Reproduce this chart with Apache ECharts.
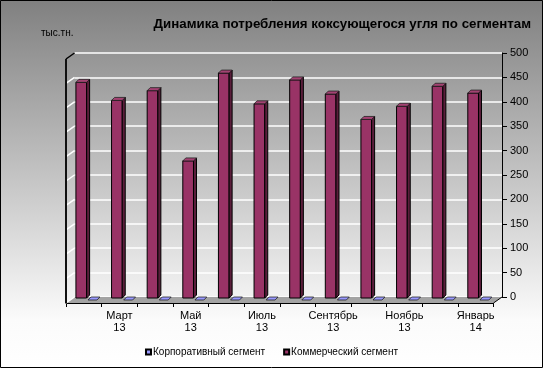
<!DOCTYPE html>
<html>
<head>
<meta charset="utf-8">
<script src="https://cdn.jsdelivr.net/npm/echarts@6/dist/echarts.min.js"></script>
<style>
html,body{margin:0;padding:0;background:#fff;}
#c{width:543px;height:368px;}
</style>
</head>
<body>
<div id="c"></div>
<script>
// ---- data ----
var categories = ['Февраль\n13','Март\n13','Апрель\n13','Май\n13','Июнь\n13','Июль\n13','Август\n13','Сентябрь\n13','Октябрь\n13','Ноябрь\n13','Декабрь\n13','Январь\n14'];
var corporate = [0,0,0,0,0,0,0,0,0,0,0,0];
var commercial = [446,409,429,285,465,402,451,422,370,397,438,424];
var yTicks = [0,50,100,150,200,250,300,350,400,450,500];
var seriesNames = ['Корпоративный сегмент','Коммерческий сегмент'];
var titleText = 'Динамика потребления коксующегося угля по сегментам';
var unitText = 'тыс.тн.';

var chart = echarts.init(document.getElementById('c'), null, {renderer:'canvas'});
var DX = 8.5, DY = 6; // depth of floor / side wall

function barItem(offFrac, wFrac, fillFront, fillTop, fillSide, depth) {
  return function(params, api) {
    var i = api.value(0), v = api.value(1);
    var p = api.coord([i, v]);
    var p0 = api.coord([i, 0]);
    var cw = api.size([1, 0])[0];
    var L = p[0] - cw / 2 + cw * offFrac;
    var W = cw * wFrac;
    var yb = p0[1] + 1;
    var yt = p[1] + depth;
    var d = depth;
    var children = [];
    if (yb - yt > 0.5) {
      children.push({type:'rect', shape:{x:L, y:yt, width:W, height:yb - yt},
        style:{fill:fillFront, stroke:'#000', lineWidth:1}});
      children.push({type:'polygon', shape:{points:[[L+W,yt],[L+W+d,yt-d],[L+W+d,yb-d],[L+W,yb]]},
        style:{fill:fillSide, stroke:'#000', lineWidth:1}});
    }
    children.push({type:'polygon', shape:{points:[[L,yt],[L+W,yt],[L+W+d,yt-d],[L+d,yt-d]]},
      style:{fill:fillTop, stroke:'#222', lineWidth:0.8}});
    return {type:'group', children:children};
  };
}

function frameItem(params, api) {
  var cs = params.coordSys;
  var left = cs.x, right = cs.x + cs.width, top = cs.y, bottom = cs.y + cs.height;
  var ch = [];
  // floor
  ch.push({type:'polygon', shape:{points:[[left-DX,bottom+DY],[right-DX,bottom+DY],[right,bottom],[left,bottom]]},
    style:{fill:'#a3a3a3', stroke:null}});
  ch.push({type:'line', shape:{x1:right, y1:bottom, x2:right-DX, y2:bottom+DY}, style:{stroke:'#000', lineWidth:1}});
  // left wall gridline diagonals
  for (var k = 0; k < yTicks.length; k++) {
    var y = api.coord([0, yTicks[k]])[1];
    ch.push({type:'line', shape:{x1:left, y1:y, x2:left-DX, y2:y+DY},
      style:{stroke: yTicks[k] === 500 ? '#000' : '#fff', lineWidth:1.5}});
  }
  // left edge
  ch.push({type:'line', shape:{x1:left-DX, y1:top+DY, x2:left-DX, y2:bottom+DY}, style:{stroke:'#111', lineWidth:2}});
  return {type:'group', children:ch};
}

var option = {
  animation: false,
  backgroundColor: new echarts.graphic.LinearGradient(0,0,0,1,[
    {offset:0, color:'#808080'},
    {offset:0.87, color:'#fbfbfb'},
    {offset:1, color:'#ffffff'}
  ]),
  textStyle: {fontFamily:'Liberation Sans, Arial, sans-serif'},
  title: [
    {text: titleText, right: 7, top: 13,
     textStyle:{fontSize:13.3, fontWeight:'bold', color:'#000', fontFamily:'Liberation Sans, Arial, sans-serif'}},
    {text: unitText, left: 36, top: 23,
     textStyle:{fontSize:10, fontWeight:'normal', color:'#000', fontFamily:'Liberation Sans, Arial, sans-serif'}}
  ],
  legend: {
    data: seriesNames,
    bottom: 6,
    left: 'center',
    itemWidth: 5, itemHeight: 5, itemGap: 18,
    icon: 'rect',
    textStyle:{fontSize:10, color:'#000', padding:[0,0,0,-3]}
  },
  grid: [
    {left:74.5, right:41, top:53, bottom:71},
    {left:66, right:49.5, top:59, bottom:65}
  ],
  xAxis: [
    {type:'category', gridIndex:0, data:categories, show:false},
    {type:'category', gridIndex:1, data:categories, position:'bottom',
     axisLine:{show:true, lineStyle:{color:'#000', width:1}},
     axisTick:{show:true, length:4, interval:0, lineStyle:{color:'#000'}},
     axisLabel:{interval:function(i){return i % 2 === 1;}, fontSize:11, color:'#000', lineHeight:12, margin:7}
    }
  ],
  yAxis: [
    {type:'value', gridIndex:0, position:'right', min:0, max:500, interval:50,
     axisLine:{show:true, lineStyle:{color:'#000', width:1}},
     axisTick:{show:true, length:5, lineStyle:{color:'#000'}},
     axisLabel:{fontSize:11, color:'#000', margin:8},
     splitLine:{show:true, lineStyle:{color:'#ffffff', width:1.5}}
    },
    {type:'value', gridIndex:1, min:0, max:500, show:false, splitLine:{show:false}}
  ],
  series: [
    {type:'custom', name:'frame', xAxisIndex:0, yAxisIndex:0, z:1, silent:true,
     renderItem: frameItem, data:[[0,0]], legendHoverLink:false},
    {type:'custom', name: seriesNames[0], xAxisIndex:0, yAxisIndex:0, z:3,
     itemStyle:{color:'#9999ff', borderColor:'#000', borderWidth:0.6},
     renderItem: barItem(0.38, 0.25, '#9999ff', '#9999ff', '#55559a', 3),
     data: corporate.map(function(v,i){return [i,v];})},
    {type:'custom', name: seriesNames[1], xAxisIndex:0, yAxisIndex:0, z:3,
     itemStyle:{color:'#993366', borderColor:'#000', borderWidth:0.6},
     renderItem: barItem(0.04, 0.3, '#993366', '#a34272', '#5a1e3b', 3),
     data: commercial.map(function(v,i){return [i,v];})}
  ],
  graphic: [
    {type:'rect', shape:{x:0.5, y:0.5, width:542, height:367}, style:{fill:null, stroke:'#000', lineWidth:1}, z:100, silent:true}
  ]
};
chart.setOption(option);
</script>
</body>
</html>
